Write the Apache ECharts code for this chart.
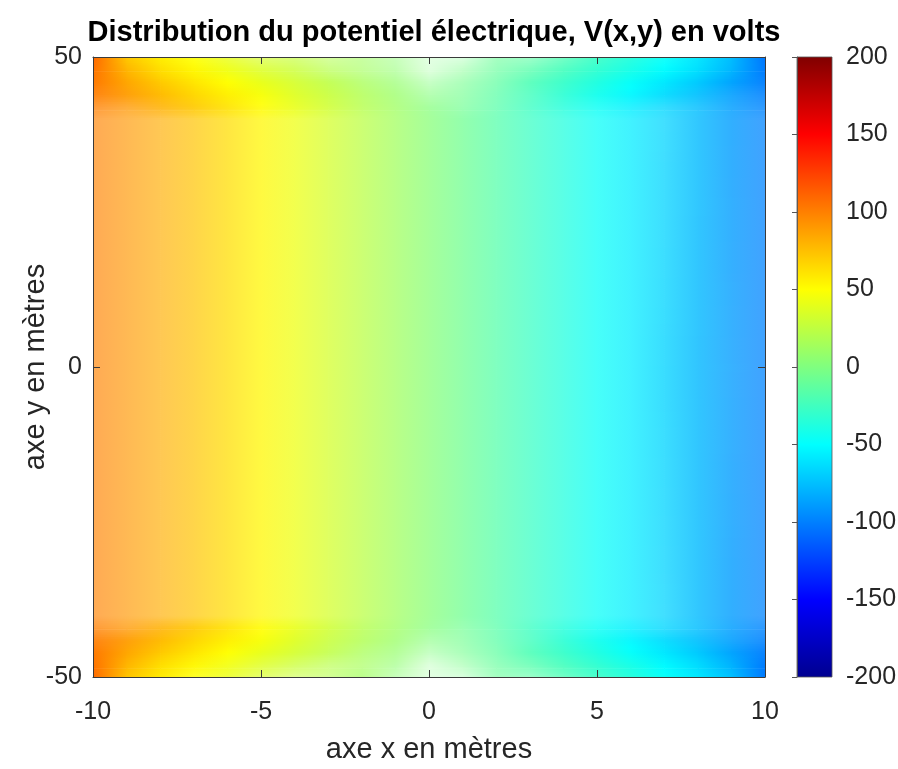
<!DOCTYPE html>
<html><head><meta charset="utf-8">
<script src="https://cdn.jsdelivr.net/npm/echarts@6/dist/echarts.min.js"></script>
<style>html,body{margin:0;padding:0;background:#fff}#c{width:898px;height:769px}</style>
</head><body><div id="c"></div>
<script>
// ---- data ----
const xs = [-10,-9,-8,-7,-6,-5,-4,-3,-2,-1,0,1,2,3,4,5,6,7,8,9,10];
const ys = [-50,-48,-46,-44,-42,-40,0,40,42,44,46,48,50];
const V_m50 = [109, 73, 58, 50, 42, 35, 28, 21, 13, 5, 0.5, -3, -9, -15, -21, -28, -36, -47, -59, -75, -103];
const V_m48 = [105, 79, 63, 53, 45, 37, 29, 22, 15, 6, 1, -3, -11, -17, -24, -32, -41, -52, -64, -80, -102];
const V_m46 = [103, 85, 71, 60, 50, 41, 33, 25, 16, 8, 1, -5, -13, -21, -29, -38, -48, -59, -71, -86, -101];
const V_m44 = [102, 89, 77, 66, 56, 47, 37, 28, 19, 10, 1.5, -6, -15, -24, -33, -43, -53, -64, -75, -88, -100];
const V_m42 = [101, 91, 81, 71, 61, 51, 41, 31, 21, 12, 2, -7, -16, -26, -36, -46, -56, -66, -76, -88, -99];
const V_m40 = [100, 91, 82, 73, 63, 53, 43, 33, 23, 13, 3, -7, -17, -27, -37, -47, -57, -67, -77, -89, -99];
const V_0   = [100, 91, 82, 73, 63, 53, 43, 33, 23, 13, 3, -7, -17, -27, -37, -47, -57, -67, -78, -89, -99];
const V_40  = [100, 91, 82, 73, 63, 53, 43, 33, 23, 13, 3, -7, -17, -27, -37, -47, -57, -67, -77, -89, -99];
const V_42  = [101, 91, 81, 71, 61, 51, 41, 31, 21, 12, 2, -7, -16, -26, -36, -46, -56, -66, -76, -88, -99];
const V_44  = [102, 89, 77, 66, 56, 47, 37, 28, 19, 10, 1.5, -6, -15, -24, -33, -43, -53, -64, -75, -88, -100];
const V_46  = [103, 85, 71, 60, 50, 41, 33, 24, 16, 8, 1, -5, -13, -21, -29, -38, -48, -59, -71, -86, -101];
const V_48  = [105, 79, 63, 53, 44, 36, 29, 21, 14, 6, 1, -3, -11, -17, -24, -32, -41, -51, -63, -79, -102];
const V_50  = [110, 72, 57, 49, 41, 34, 27, 20, 13, 5, 0.5, -3, -9, -15, -21, -28, -37, -48, -60, -76, -104];
const rows = [V_m50, V_m48, V_m46, V_m44, V_m42, V_m40, V_0, V_40, V_42, V_44, V_46, V_48, V_50];
const xTicks = [-10, -5, 0, 5, 10];
const yTicks = [-50, 0, 50];
const cbTicks = [-200, -150, -100, -50, 0, 50, 100, 150, 200];

const titleText = 'Distribution du potentiel électrique, V(x,y) en volts';
const xName = 'axe x en mètres';
const yName = 'axe y en mètres';

// ---- colormap (jet) ----
const cbMin = cbTicks[0], cbMax = cbTicks[cbTicks.length - 1];
const jet = [[0,[0,0,143]],[0.125,[0,0,255]],[0.375,[0,255,255]],[0.625,[255,255,0]],[0.875,[255,0,0]],[1,[128,0,0]]];
function jetRGB(v){
  let t = (v - cbMin) / (cbMax - cbMin);
  t = Math.max(0, Math.min(1, t));
  for (let i = 1; i < jet.length; i++) {
    if (t <= jet[i][0]) {
      const a = jet[i-1], b = jet[i];
      const f = (t - a[0]) / (b[0] - a[0]);
      return [0,1,2].map(k => a[1][k] + (b[1][k] - a[1][k]) * f);
    }
  }
  return jet[jet.length-1][1];
}
function colorAt(v, cov){
  const c = jetRGB(v).map(ch => Math.round(255 - (255 - ch) * cov));
  return 'rgb(' + c.join(',') + ')';
}
// contour-line density -> ink coverage (emulates many thin contour lines on white)
const K = 3.93;
function nodeCov(j, i, sx, sy){
  const i0 = Math.max(0, i - 1), i1 = Math.min(xs.length - 1, i + 1);
  const j0 = Math.max(0, j - 1), j1 = Math.min(ys.length - 1, j + 1);
  const gx = (rows[j][i1] - rows[j][i0]) / ((xs[i1] - xs[i0]) * sx);
  const gy = (rows[j1][i] - rows[j0][i]) / ((ys[j1] - ys[j0]) * sy);
  const g = Math.hypot(gx, gy);
  return 1 - Math.exp(-Math.pow(K * g, 2));
}

// ---- cells built from the arrays ----
const cells = [];
for (let j = 0; j < ys.length - 1; j++) {
  for (let i = 0; i < xs.length - 1; i++) {
    cells.push([xs[i], ys[j], xs[i+1], ys[j+1], rows[j][i], rows[j][i+1], rows[j+1][i], rows[j+1][i+1], i, j]);
  }
}

function renderCell(params, api){
  const x0 = api.value(0), y0 = api.value(1), x1 = api.value(2), y1 = api.value(3);
  const v00 = api.value(4), v10 = api.value(5), v01 = api.value(6), v11 = api.value(7);
  const i = api.value(8), j = api.value(9);
  const p0 = api.coord([x0, y0]), p1 = api.coord([x1, y1]);
  const left = p0[0], right = p1[0], bottom = p0[1], top = p1[1];
  const w = right - left, h = bottom - top;
  const sx = w / (x1 - x0), sy = h / (y1 - y0);
  const c00 = nodeCov(j, i, sx, sy), c10 = nodeCov(j, i + 1, sx, sy);
  const c01 = nodeCov(j + 1, i, sx, sy), c11 = nodeCov(j + 1, i + 1, sx, sy);
  const n = Math.max(1, Math.ceil(h / 2));
  const children = [];
  for (let k = 0; k < n; k++) {
    const t = (k + 0.5) / n;
    const vL = v00 + (v01 - v00) * t, vR = v10 + (v11 - v10) * t;
    const cL = c00 + (c01 - c00) * t, cR = c10 + (c11 - c10) * t;
    const yTop = bottom - (k + 1) * h / n;
    children.push({
      type: 'rect',
      shape: { x: left, y: yTop, width: w + 0.7, height: h / n + 0.7 },
      style: {
        fill: new echarts.graphic.LinearGradient(0, 0, 1, 0, [
          { offset: 0, color: colorAt(vL, cL) },
          { offset: 1, color: colorAt(vR, cR) }
        ])
      }
    });
  }
  return { type: 'group', children: children };
}

function renderBar(params, api){
  const p0 = api.coord([api.value(0), api.value(1)]);
  const p1 = api.coord([api.value(2), api.value(3)]);
  const stops = jet.map(s => ({ offset: 1 - s[0], color: 'rgb(' + s[1].join(',') + ')' })).reverse();
  return {
    type: 'rect',
    shape: { x: p0[0], y: p1[1], width: p1[0] - p0[0], height: p0[1] - p1[1] },
    style: { fill: new echarts.graphic.LinearGradient(0, 0, 0, 1, stops), stroke: '#555', lineWidth: 0.8 }
  };
}

const FONT = "'Liberation Sans', Arial, Helvetica, sans-serif";
const axisColor = '#3a3a3a';
const labelStyle = { color: '#262626', fontSize: 25, fontFamily: FONT };
const xStep = xTicks[1] - xTicks[0], yStep = yTicks[1] - yTicks[0], cStep = cbTicks[1] - cbTicks[0];

function mainX(pos, show){
  return {
    type: 'value', gridIndex: 0, position: pos, z: 5,
    min: xTicks[0], max: xTicks[xTicks.length-1], interval: xStep,
    axisLine: { show: true, onZero: false, lineStyle: { color: axisColor, width: 1 } },
    axisTick: { show: true, inside: true, length: 7, lineStyle: { color: axisColor } },
    axisLabel: Object.assign({ show: show, margin: 23 }, labelStyle),
    splitLine: { show: false },
    name: show ? xName : '', nameLocation: 'middle', nameGap: 58, nameMoveOverlap: false,
    nameTextStyle: { color: '#262626', fontSize: 29, fontFamily: FONT }
  };
}
function mainY(pos, show){
  return {
    type: 'value', gridIndex: 0, position: pos, z: 5,
    min: yTicks[0], max: yTicks[yTicks.length-1], interval: yStep,
    axisLine: { show: true, onZero: false, lineStyle: { color: axisColor, width: 1 } },
    axisTick: { show: true, inside: true, length: 7, lineStyle: { color: axisColor } },
    axisLabel: Object.assign({ show: show, margin: 11 }, labelStyle),
    splitLine: { show: false },
    name: show ? yName : '', nameLocation: 'middle', nameGap: 43, nameRotate: 90, nameMoveOverlap: false,
    nameTextStyle: { color: '#262626', fontSize: 29, fontFamily: FONT }
  };
}

const chart = echarts.init(document.getElementById('c'), null, { renderer: 'canvas' });
chart.setOption({
  backgroundColor: '#ffffff',
  animation: false,
  title: {
    text: titleText, left: 429, top: 13, textAlign: 'center',
    textStyle: { fontSize: 29, fontWeight: 'bold', fontFamily: FONT, color: '#000' }
  },
  grid: [
    { left: 93, top: 57, width: 672, height: 620, outerBoundsMode: 'none', containLabel: false },
    { left: 797, top: 57, width: 35, height: 620, outerBoundsMode: 'none', containLabel: false }
  ],
  xAxis: [
    mainX('bottom', true),
    mainX('top', false),
    { type: 'value', gridIndex: 1, min: 0, max: 1, show: false }
  ],
  yAxis: [
    mainY('left', true),
    mainY('right', false),
    {
      type: 'value', gridIndex: 1, position: 'right', z: 5,
      min: cbMin, max: cbMax, interval: cStep,
      axisLine: { show: true, lineStyle: { color: '#555', width: 0.8 } },
      axisTick: { show: true, inside: true, length: 5, lineStyle: { color: '#555' } },
      axisLabel: Object.assign({ margin: 14 }, labelStyle),
      splitLine: { show: false }
    }
  ],
  series: [
    {
      type: 'custom', xAxisIndex: 0, yAxisIndex: 0, z: 1, clip: true,
      renderItem: renderCell, data: cells, encode: { x: [0, 2], y: [1, 3] }
    },
    {
      type: 'custom', xAxisIndex: 2, yAxisIndex: 2, z: 1,
      renderItem: renderBar, data: [[0, cbMin, 1, cbMax]], encode: { x: [0, 2], y: [1, 3] }
    }
  ]
});
</script>
</body></html>
